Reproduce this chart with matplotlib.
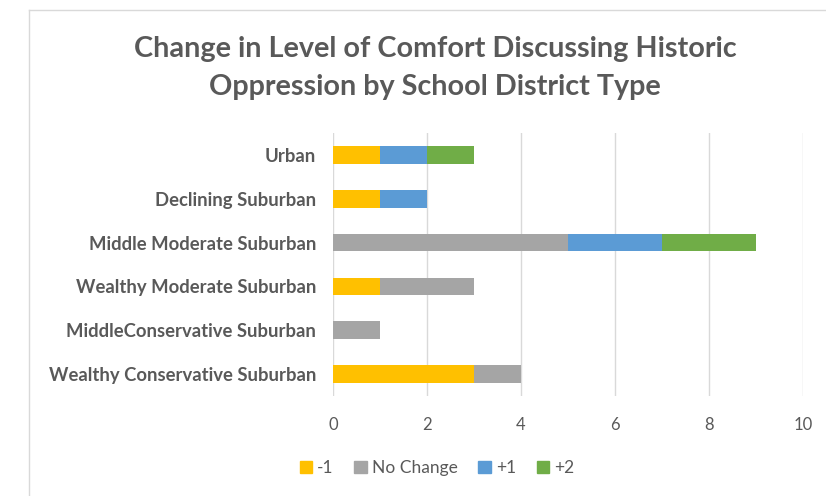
import matplotlib
matplotlib.use("Agg")
import matplotlib.pyplot as plt
from matplotlib.lines import Line2D
import numpy as np

categories = ["Urban", "Declining Suburban", "Middle Moderate Suburban",
              "Wealthy Moderate Suburban", "MiddleConservative Suburban",
              "Wealthy Conservative Suburban"]
series_names = ["-1", "No Change", "+1", "+2"]
minus1 = [1, 1, 0, 1, 0, 3]
no_change = [0, 0, 5, 2, 1, 1]
plus1 = [1, 1, 2, 0, 0, 0]
plus2 = [1, 0, 2, 0, 0, 0]
colors = ["#FFC000", "#A5A5A5", "#5B9BD5", "#70AD47"]
xticks = [0, 2, 4, 6, 8, 10]

W, H = 826, 496
fig = plt.figure(figsize=(W / 100, H / 100), dpi=100)
ax = fig.add_axes([333 / W, 100 / H, (803 - 333) / W, (363 - 100) / H])

y = np.arange(len(categories))
left = np.zeros(len(categories))
for name, vals, c in zip(series_names, [minus1, no_change, plus1, plus2], colors):
    ax.barh(y, vals, left=left, height=0.4, color=c, label=name, zorder=3)
    left += np.array(vals)

ax.set_ylim(len(categories) - 0.5, -0.5)
ax.set_xlim(0, 10)
ax.set_xticks(xticks)
ax.set_xticklabels([str(t) for t in xticks], fontsize=12, color="#595959",
                   family="Lato")
ax.set_yticks(y)
ax.set_yticklabels(categories, fontsize=13.3, color="#595959", family="Lato",
                   fontweight="bold")
ax.tick_params(axis="both", length=0)
ax.tick_params(axis="y", pad=12)
ax.tick_params(axis="x", pad=15)
ax.grid(axis="x", color="#D9D9D9", linewidth=1, zorder=0)
for s in ax.spines.values():
    s.set_visible(False)

fig.text(435 / W, 1 - 68 / H,
         "Change in Level of Comfort Discussing Historic\nOppression by School District Type",
         ha="center", va="center", fontsize=20.7, fontweight="bold",
         color="#595959", family="Lato", linespacing=1.6)

handles = [plt.Rectangle((0, 0), 1, 1, color=c) for c in colors]
leg = fig.legend(handles, series_names, loc="center", bbox_to_anchor=(437 / W, 1 - 468 / H),
                 ncol=4, frameon=False, handlelength=0.7, handleheight=0.7,
                 handletextpad=0.3, columnspacing=1.2,
                 prop={"family": "Lato", "size": 12.5})
for t in leg.get_texts():
    t.set_color("#595959")

border = "#D9D9D9"
fig.add_artist(Line2D([29 / W, 29 / W], [0, 1 - 10 / H], color=border, lw=1,
                      transform=fig.transFigure))
fig.add_artist(Line2D([29 / W, 1], [1 - 10 / H, 1 - 10 / H], color=border, lw=1,
                      transform=fig.transFigure))

fig.savefig("out.png", dpi=100)
